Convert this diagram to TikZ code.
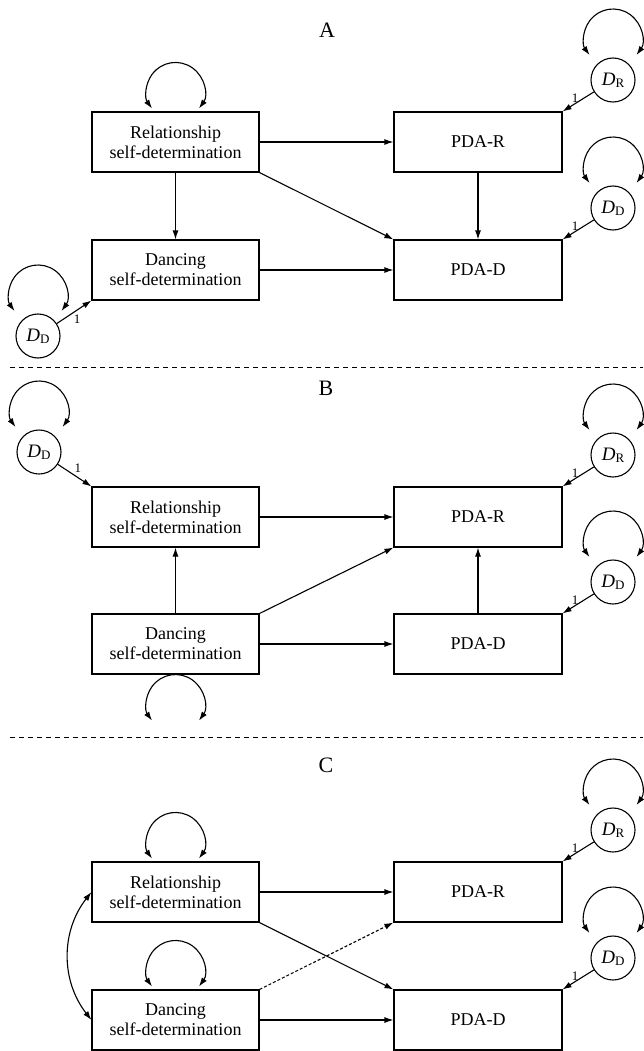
\documentclass[tikz,border=0pt]{standalone}
\usepackage{fontspec}
\setmainfont{Liberation Serif}
\usetikzlibrary{arrows.meta}

\newcommand{\Dlab}[1]{{\itshape D}\raisebox{-2pt}{\fontsize{13}{13}\selectfont #1}}

\begin{document}
\begin{tikzpicture}[
  x=1pt, y=1pt,
  >={Latex[length=9pt,width=6pt]},
  var/.style={
    draw,
    line width=1.1pt,
    minimum width=167pt,
    minimum height=60pt,
    align=center,
    inner sep=2pt,
    font=\fontsize{18}{20}\selectfont
  },
  pda/.style={var, minimum width=168pt},
  resid/.style={
    draw,
    circle,
    line width=1.1pt,
    minimum size=44pt,
    inner sep=0pt,
    font=\fontsize{19}{20}\selectfont
  },
  panel/.style={font=\fontsize{22}{24}\selectfont},
  link/.style={->, line width=1.1pt},
  cov/.style={<->, line width=1.1pt},
  weight/.style={font=\fontsize{13}{13}\selectfont, inner sep=1pt},
  split/.style={line width=0.9pt, dash pattern=on 5pt off 4pt}
]

\path[use as bounding box] (0,0) rectangle (643,-1051);

% ---- panel A
\node[panel] (titleA) at (327,-30) {A};
\node[var] (relA) at (175.5,-142) {Relationship\\self-determination};
\node[var] (dancA) at (175.5,-270) {Dancing\\self-determination};
\node[pda] (pdarA) at (478,-142) {PDA-R};
\node[pda] (pdadA) at (478,-270) {PDA-D};
\node[resid] (drA) at (613,-80) {\Dlab{R}};
\node[resid] (ddA) at (613,-208) {\Dlab{D}};
\node[resid] (ddlA) at (38,-336) {\Dlab{D}};

\draw[link] (relA.east) -- (pdarA.west);
\draw[link] (relA.south) -- (dancA.north);
\draw[link] (relA.south east) -- (pdadA.north west);
\draw[link] (pdarA.south) -- (pdadA.north);
\draw[link] (dancA.east) -- (pdadA.west);
\draw[link] (drA) -- node[weight, above, pos=0.6] {1} (pdarA.north east);
\draw[link] (ddA) -- node[weight, above, pos=0.6] {1} (pdadA.north east);
\draw[link] (ddlA) -- node[weight, below right, pos=0.45] {1} (dancA.south west);

\draw[cov] (relA.north) ++(0,20) ++(-36:29) arc (-36:216:29);
\draw[cov] (drA.center) ++(0,42) ++(-36:29) arc (-36:216:29);
\draw[cov] (ddA.center) ++(0,42) ++(-36:29) arc (-36:216:29);
\draw[cov] (ddlA.center) ++(0,42) ++(-36:29) arc (-36:216:29);

\draw[split] (10,-367) -- (643,-367);

% ---- panel B
\node[panel] (titleB) at (326,-388) {B};
\node[var] (relB) at (175.5,-517) {Relationship\\self-determination};
\node[var] (dancB) at (175.5,-644) {Dancing\\self-determination};
\node[pda] (pdarB) at (478,-517) {PDA-R};
\node[pda] (pdadB) at (478,-644) {PDA-D};
\node[resid] (drB) at (613,-455) {\Dlab{R}};
\node[resid] (ddB) at (613,-582) {\Dlab{D}};
\node[resid] (ddlB) at (39,-452) {\Dlab{D}};

\draw[link] (relB.east) -- (pdarB.west);
\draw[link] (dancB.north) -- (relB.south);
\draw[link] (dancB.north east) -- (pdarB.south west);
\draw[link] (pdadB.north) -- (pdarB.south);
\draw[link] (dancB.east) -- (pdadB.west);
\draw[link] (drB) -- node[weight, above, pos=0.6] {1} (pdarB.north east);
\draw[link] (ddB) -- node[weight, above, pos=0.6] {1} (pdadB.north east);
\draw[link] (ddlB) -- node[weight, above right, pos=0.45] {1} (relB.north west);

\draw[cov] (dancB.south) ++(0,-29) ++(-36:29) arc (-36:216:29);
\draw[cov] (drB.center) ++(0,42) ++(-36:29) arc (-36:216:29);
\draw[cov] (ddB.center) ++(0,42) ++(-36:29) arc (-36:216:29);
\draw[cov] (ddlB.center) ++(0,42) ++(-36:29) arc (-36:216:29);

\draw[split] (10,-737) -- (643,-737);

% ---- panel C
\node[panel] (titleC) at (326,-765) {C};
\node[var] (relC) at (175.5,-892) {Relationship\\self-determination};
\node[var] (dancC) at (175.5,-1020) {Dancing\\self-determination};
\node[pda] (pdarC) at (478,-892) {PDA-R};
\node[pda] (pdadC) at (478,-1020) {PDA-D};
\node[resid] (drC) at (613,-830) {\Dlab{R}};
\node[resid] (ddC) at (613,-958) {\Dlab{D}};

\draw[link] (relC.east) -- (pdarC.west);
\draw[link] (relC.south east) -- (pdadC.north west);
\draw[link, dash pattern=on 3pt off 2pt] (dancC.north east) -- (pdarC.south west);
\draw[link] (dancC.east) -- (pdadC.west);
\draw[cov] (relC.west) to[bend right=38] (dancC.west);
\draw[link] (drC) -- node[weight, above, pos=0.6] {1} (pdarC.north east);
\draw[link] (ddC) -- node[weight, above, pos=0.6] {1} (pdadC.north east);

\draw[cov] (relC.north) ++(0,20) ++(-36:29) arc (-36:216:29);
\draw[cov] (dancC.north) ++(0,20) ++(-36:29) arc (-36:216:29);
\draw[cov] (drC.center) ++(0,42) ++(-36:29) arc (-36:216:29);
\draw[cov] (ddC.center) ++(0,42) ++(-36:29) arc (-36:216:29);

\end{tikzpicture}
\end{document}
